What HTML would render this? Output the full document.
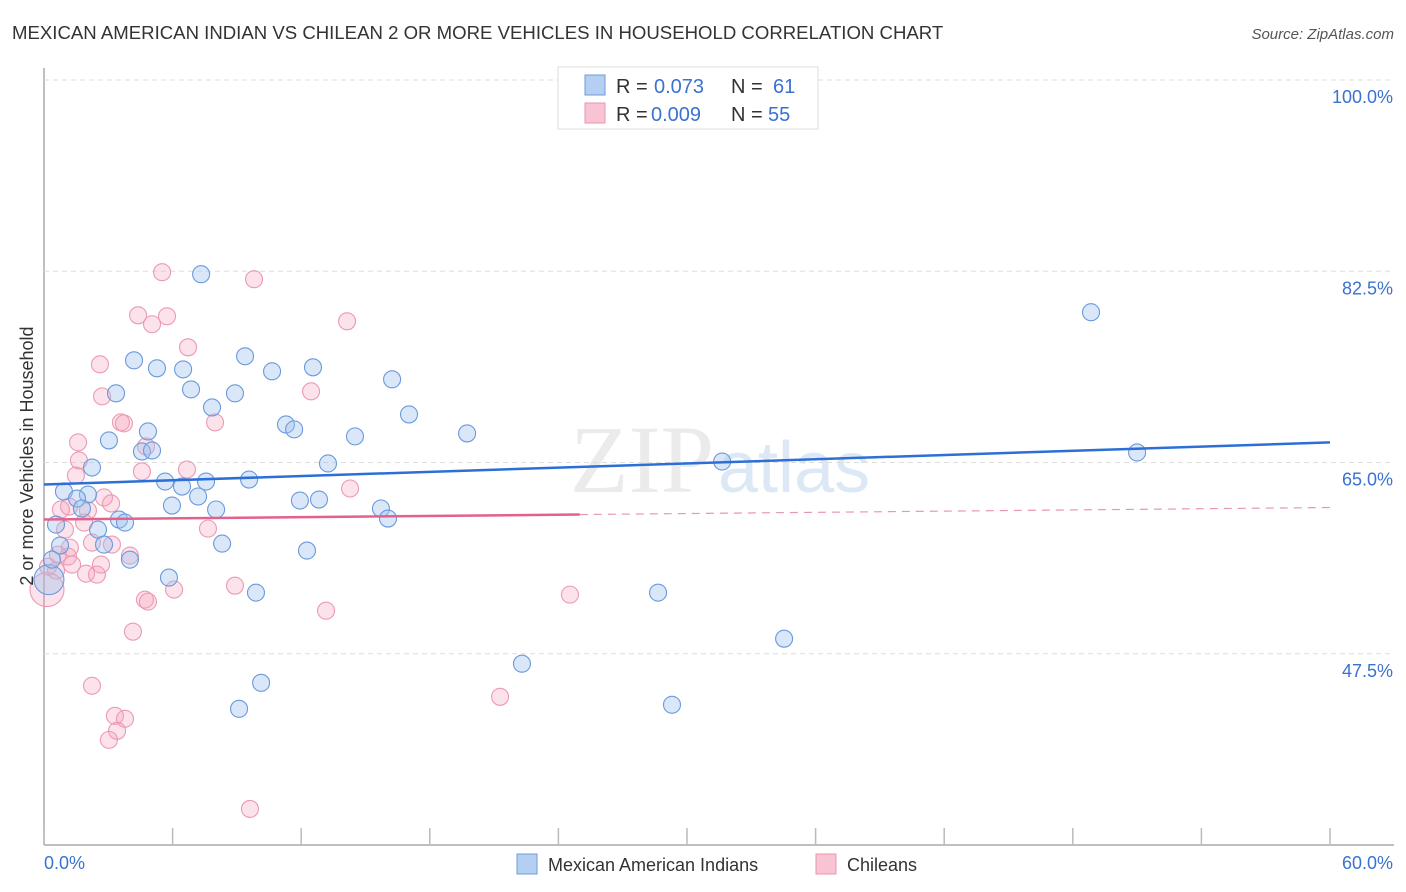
<!DOCTYPE html>
<html><head><meta charset="utf-8">
<style>
body{margin:0;background:#fff;font-family:"Liberation Sans",sans-serif;}
#wrap{position:relative;width:1406px;height:892px;overflow:hidden;}
</style></head>
<body>
<div id="wrap">
<svg id="svg" width="1406" height="892" xmlns="http://www.w3.org/2000/svg">
<text x="12" y="39" font-size="18.6" fill="#333">MEXICAN AMERICAN INDIAN VS CHILEAN 2 OR MORE VEHICLES IN HOUSEHOLD CORRELATION CHART</text>
<text x="1394" y="39" font-size="15" fill="#555" font-style="italic" text-anchor="end">Source: ZipAtlas.com</text>
<text x="714" y="492" font-size="96" fill="#ebebeb" font-family="Liberation Serif,serif" text-anchor="end">ZIP</text>
<text x="718" y="492" font-size="72" fill="#dce8f6" text-anchor="start">atlas</text>
<g id="grid"></g>
<g id="pts"></g>
<g id="trend"></g>
<text transform="translate(33,456) rotate(-90)" font-size="18" fill="#333" text-anchor="middle">2 or more Vehicles in Household</text>
<g>
<rect x="558" y="67" width="260" height="62" fill="#fff" stroke="#ddd"/>
<rect x="585" y="75" width="20" height="20" fill="#b5cff2" stroke="#6f9bd8"/>
<rect x="585" y="103" width="20" height="20" fill="#f8c4d3" stroke="#e996b0"/>
<text x="616" y="93" font-size="20" fill="#333">R = <tspan x="654" fill="#3a72d0">0.073</tspan><tspan x="731">N = </tspan><tspan x="773" fill="#3a72d0">61</tspan></text>
<text x="616" y="121" font-size="20" fill="#333">R = <tspan x="651" fill="#3a72d0">0.009</tspan><tspan x="731">N = </tspan><tspan x="768" fill="#3a72d0">55</tspan></text>
</g>
<g>
<rect x="517" y="854" width="20" height="20" fill="#b5cff2" stroke="#6f9bd8"/>
<text x="548" y="871" font-size="18" fill="#333">Mexican American Indians</text>
<rect x="816" y="854" width="20" height="20" fill="#f8c4d3" stroke="#e996b0"/>
<text x="847" y="871" font-size="18" fill="#333">Chileans</text>
</g>
</svg>
</div>
<script>
const yTicks=[47.5,65.0,82.5,100.0];
const xTickLabels=["0.0%","60.0%"];
const blueX=[26.08,7.33,48.85,4.20,9.38,5.27,6.49,10.64,12.55,16.24,3.36,6.86,8.91,7.84,17.03,11.29,11.67,14.51,19.74,3.03,4.85,4.57,5.04,51.00,2.24,13.25,31.64,5.65,6.44,7.56,9.57,0.93,2.05,1.54,7.19,5.97,11.94,12.83,8.03,15.72,16.05,1.77,3.50,3.78,0.56,2.52,0.75,2.80,8.31,12.27,4.01,5.83,9.89,28.65,34.53,22.30,10.13,9.10,29.30,0.23,0.37];
const blueY=[100.0,82.23,78.75,74.35,74.72,73.62,73.52,73.34,73.71,72.61,71.33,71.69,71.33,70.04,69.40,68.48,68.03,67.39,67.66,67.02,67.84,66.01,66.10,65.92,64.54,64.91,65.09,63.26,62.80,63.26,63.44,62.35,62.07,61.70,61.89,61.06,61.52,61.61,60.70,60.79,59.87,60.79,59.78,59.50,59.32,58.86,57.40,57.49,57.58,56.94,56.11,54.47,53.09,53.09,48.88,46.59,44.84,42.46,42.83,54.28,56.11];
const pinkX=[5.51,9.80,4.39,5.74,5.04,14.14,6.72,2.61,12.46,2.71,3.59,3.73,7.98,1.59,4.76,1.63,6.67,4.57,1.49,14.28,2.80,3.13,1.17,0.79,2.05,0.98,7.65,2.24,3.17,4.01,1.12,2.66,1.31,0.19,2.47,0.56,1.96,0.14,6.07,8.91,4.71,4.85,13.16,24.54,4.15,2.24,3.31,3.78,3.41,3.03,21.28,9.61,1.87,1.21,0.65];
const pinkY=[82.41,81.77,78.47,78.38,77.65,77.92,75.54,73.98,71.51,71.05,68.67,68.58,68.67,66.84,66.47,65.19,64.36,64.18,63.81,62.62,61.80,61.25,60.97,60.70,60.61,58.86,58.95,57.67,57.49,56.48,56.39,55.66,55.66,55.47,54.74,55.11,54.83,53.37,53.37,53.73,52.45,52.27,51.44,52.91,49.52,44.57,41.82,41.55,40.45,39.62,43.56,33.30,59.50,57.21,56.57];
const blueBig=[59];
const pinkBig=[37];
const blueTrend=[62.99,66.84];
const pinkTrend=[59.78,60.88];
const pinkSolidEnd=25;

const X0=44,X1=1330,YB=845,YT=80;
function sx(v){return X0+(v/60)*(X1-X0);}
function sy(v){return YB-(v-30)/70*(YB-YT);}
const NS="http://www.w3.org/2000/svg";
function mk(tag,attrs,parent){const e=document.createElementNS(NS,tag);for(const k in attrs)e.setAttribute(k,attrs[k]);parent.appendChild(e);return e;}
const grid=document.getElementById('grid'),pts=document.getElementById('pts'),tr=document.getElementById('trend');
let ax=mk('line',{x1:X0,y1:68,x2:X0,y2:YB,stroke:'#aaa','stroke-width':1.5},grid);


let bx=mk('line',{x1:X0,y1:YB,x2:1394,y2:YB,stroke:'#aaa','stroke-width':1.5},grid);


for(let i=0;i<=10;i++){const t=mk('line',{x1:sx(i*6),y1:828,x2:sx(i*6),y2:YB,stroke:'#bbb','stroke-width':1.5},grid);

}
yTicks.forEach(v=>{const g=mk('line',{x1:X0,y1:sy(v),x2:1394,y2:sy(v),stroke:'#ddd','stroke-dasharray':'5,4'},grid);


const t=mk('text',{x:1393,y:sy(v)+23,'font-size':18,fill:'#3a72d0','text-anchor':'end'},grid);t.textContent=v.toFixed(1)+'%';

});
const xl0=mk('text',{x:44,y:869,'font-size':18,fill:'#3a72d0'},grid);xl0.textContent=xTickLabels[0];


const xl1=mk('text',{x:1393,y:869,'font-size':18,fill:'#3a72d0','text-anchor':'end'},grid);xl1.textContent=xTickLabels[1];


pinkX.forEach((x,i)=>{const c=mk('circle',{cx:sx(x),cy:sy(pinkY[i]),r:pinkBig.includes(i)?17:8.5,fill:'rgba(244,160,186,0.3)',stroke:'#ec9ab3','stroke-width':1.1},pts);

});
blueX.forEach((x,i)=>{const c=mk('circle',{cx:sx(x),cy:sy(blueY[i]),r:blueBig.includes(i)?15:8.5,fill:'rgba(160,194,238,0.4)',stroke:'#6a9ade','stroke-width':1.1},pts);

});
const bl=mk('line',{x1:sx(0),y1:sy(blueTrend[0]),x2:sx(60),y2:sy(blueTrend[1]),stroke:'#2d6fd6','stroke-width':2.5},tr);


const pe=pinkTrend[0]+(pinkTrend[1]-pinkTrend[0])*pinkSolidEnd/60;
const pl=mk('line',{x1:sx(0),y1:sy(pinkTrend[0]),x2:sx(pinkSolidEnd),y2:sy(pe),stroke:'#e2628d','stroke-width':2.5},tr);


const pd=mk('line',{x1:sx(pinkSolidEnd),y1:sy(pe),x2:sx(60),y2:sy(pinkTrend[1]),stroke:'#e897b0','stroke-width':1.2,'stroke-dasharray':'8,6'},tr);


</script>
</body></html>
